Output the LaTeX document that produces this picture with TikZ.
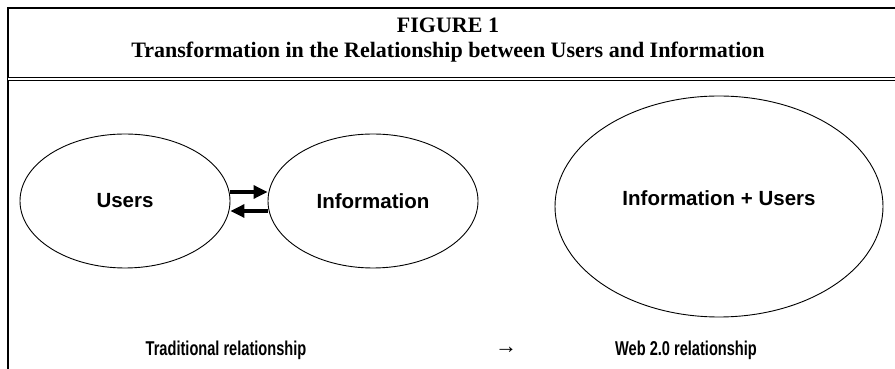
\documentclass[tikz,border=0pt]{standalone}
\usepackage{fontspec}
\setmainfont{Liberation Serif}
\setsansfont{Liberation Sans}
\newfontfamily\narrowsans[FakeStretch=0.73]{Liberation Sans}
\usetikzlibrary{shapes.geometric,arrows.meta}

\begin{document}
\begin{tikzpicture}[x=1pt,y=1pt,
    bubble/.style={draw,ellipse,line width=0.9pt,inner sep=0pt,font=\sffamily\bfseries\fontsize{20.5}{24}\selectfont},
    caption/.style={font=\narrowsans\bfseries\fontsize{20}{24}\selectfont},
    flow/.style={line width=3.2pt,-{Triangle[length=14pt,width=13pt]}}]
    \useasboundingbox (0,0) rectangle (895,369);
    % frame
    \draw[line width=1.5pt] (8,0) -- (8,361) -- (895,361);
    \draw[line width=0.9pt,double distance=2.6pt] (8,290) -- (895,290);
    \node[font=\bfseries\fontsize{22}{26}\selectfont] (fig) at (448,344) {FIGURE 1};
    \node[font=\bfseries\fontsize{22}{26}\selectfont] (title) at (448,317)
      {Transformation in the Relationship between Users and Information};
    % traditional
    \node[bubble,minimum width=210,minimum height=134] (users) at (125,168) {Users};
    \node[bubble,minimum width=210,minimum height=134] (info) at (373,168) {Information};
    \draw[flow] ([yshift=9]users.center -| users.east) -- ([yshift=9]info.center -| info.west);
    \draw[flow] ([yshift=-10]info.center -| info.west) -- ([yshift=-10]users.center -| users.east);
    % web 2.0
    \node[bubble,minimum width=328,minimum height=221,text depth=17pt] (web) at (719,162.5) {Information + Users};
    \node[caption] (trad) at (226,19) {Traditional relationship};
    \node[font=\sffamily\fontsize{22}{26}\selectfont] (to) at (506,19) {→};
    \node[caption] (new) at (686,19) {Web 2.0 relationship};
\end{tikzpicture}
\end{document}
